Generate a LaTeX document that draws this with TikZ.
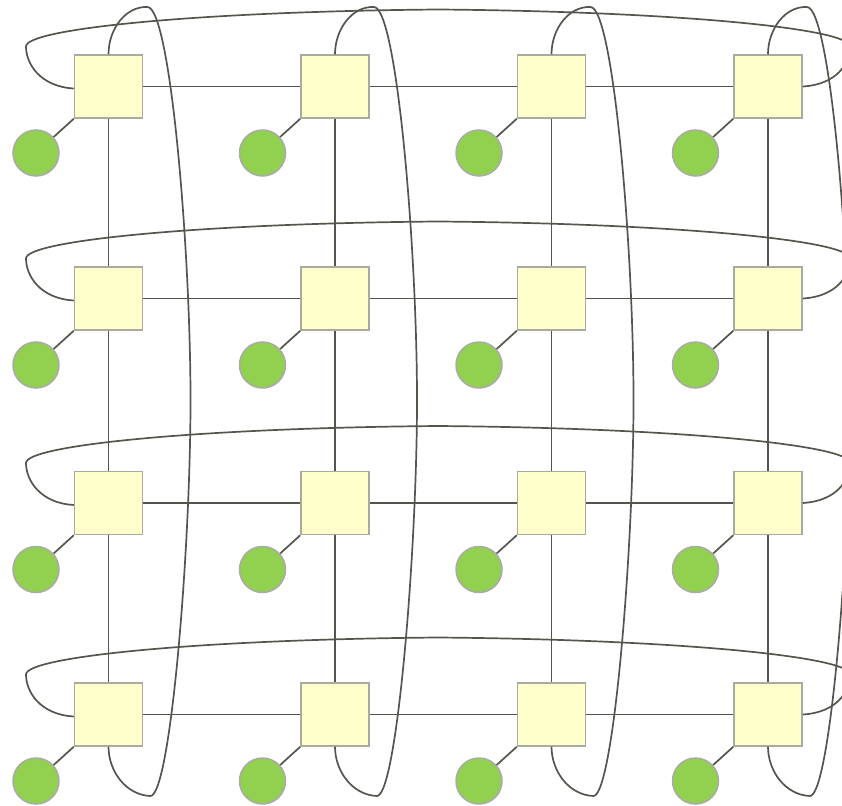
\documentclass[tikz,border=0pt]{standalone}
\usetikzlibrary{calc}
\definecolor{wirec}{RGB}{85,85,78}
\definecolor{sqfill}{RGB}{255,255,204}
\definecolor{sqdraw}{RGB}{170,170,160}
\definecolor{gfill}{RGB}{146,208,80}
\definecolor{gdraw}{RGB}{170,170,170}
\begin{document}
\begin{tikzpicture}[x=1pt,y=-1pt,
  wire/.style={draw=wirec,line width=1.7pt},
  sq/.style={rectangle,draw=sqdraw,fill=sqfill,line width=1.5pt,minimum width=68pt,minimum height=63pt,inner sep=0pt},
  dot/.style={circle,draw=gdraw,fill=gfill,line width=1.5pt,minimum size=46pt,inner sep=0pt}]
\useasboundingbox (0,0) rectangle (842,805);
\foreach \r/\Y in {1/86.5,2/298.5,3/503,4/714.5}{
  \foreach \c/\X in {1/108.5,2/335,3/551.5,4/768}{
    \node[sq] (s\r\c) at (\X,\Y) {};
    \node[dot] (c\r\c) at (\X-72.5,\Y+66.5) {};
    \draw[wire] (c\r\c) -- (s\r\c.south west);
  }
}
% grid lines
\foreach \r in {1,2,3,4}{
  \draw[wire] (s\r1) -- (s\r2);
  \draw[wire] (s\r2) -- (s\r3);
  \draw[wire] (s\r3) -- (s\r4);
  \draw[wire] (s1\r) -- (s2\r);
  \draw[wire] (s2\r) -- (s3\r);
  \draw[wire] (s3\r) -- (s4\r);
}
% horizontal wraparounds
\foreach \r/\Y in {1/86.5,2/298.5,3/503,4/714.5}{
  \draw[wire] ($(s\r1.west)+(0,2)$) .. controls +(-34,-2) and +(0,17) .. (26,\Y-40)
     .. controls +(0,-18) and +(-238,2) .. (438,\Y-77)
     .. controls +(238,2) and +(0,-18) .. (850,\Y-40)
     .. controls +(0,17) and +(34,-2) .. (s\r4.east);
}
% vertical wraparounds
\foreach \c/\X in {1/108.5,2/335,3/551.5,4/768}{
  \draw[wire] (s1\c.north) .. controls +(0,-25) and +(-22,-1) .. (\X+39,7)
     .. controls +(23,1) and +(0,-150) .. (\X+82,400)
     .. controls +(0,150) and +(20,-1) .. (\X+42,796)
     .. controls +(-25,-1) and +(0,24) .. (s4\c.south);
}
\end{tikzpicture}
\end{document}
